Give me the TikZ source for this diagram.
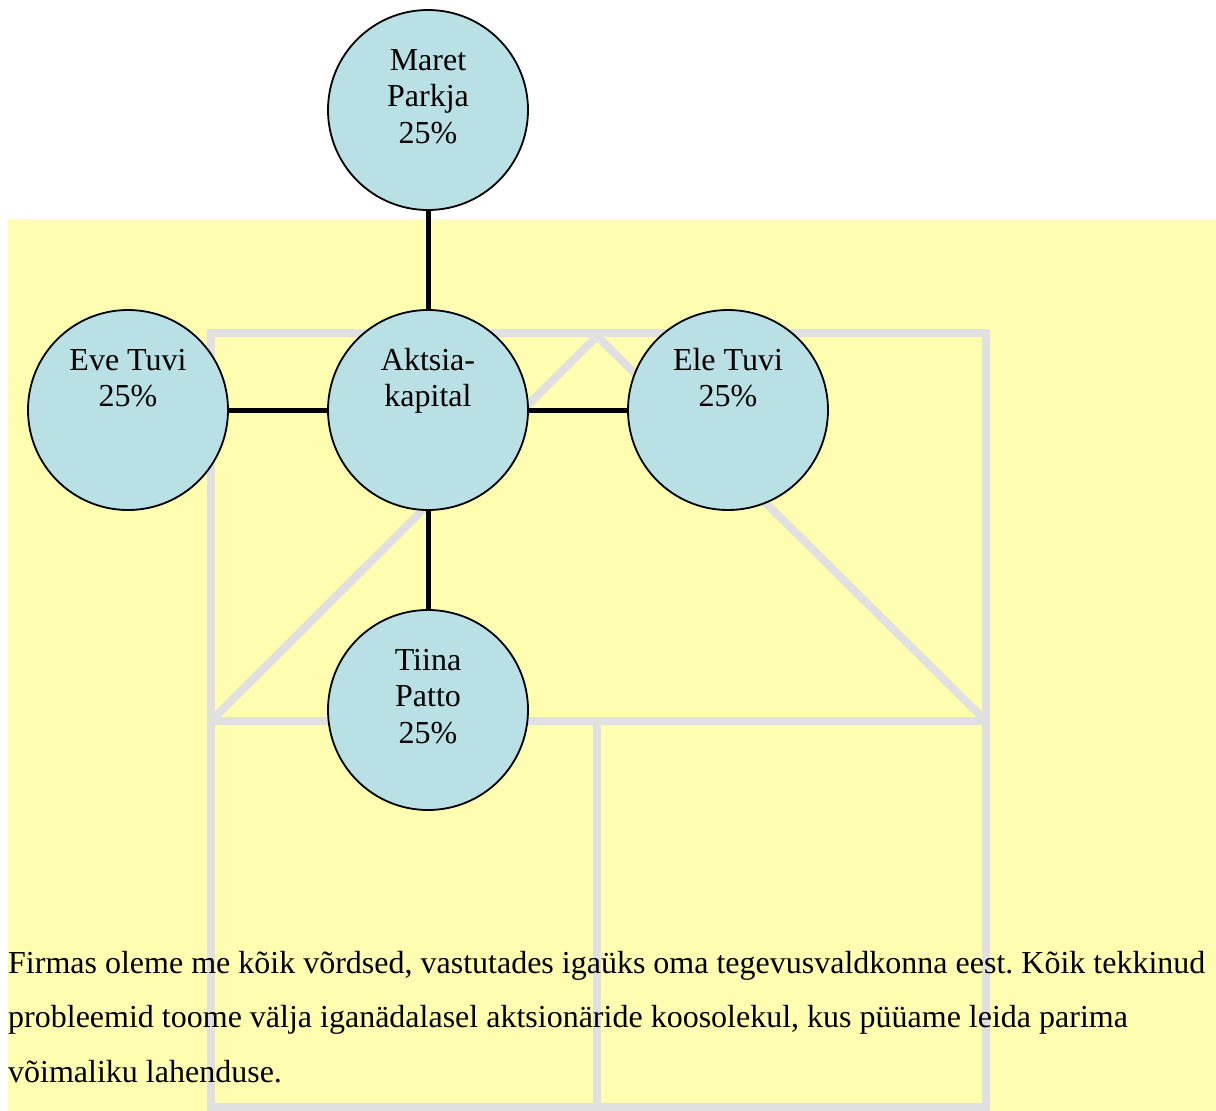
\documentclass[tikz,border=0pt]{standalone}
\usepackage{fontspec}
\setmainfont{Liberation Serif}
\definecolor{bgyellow}{RGB}{255,253,175}
\definecolor{housegrey}{RGB}{224,224,224}
\definecolor{circfill}{RGB}{185,224,228}
\newcommand\ctext[1]{\vtop{\halign{\hfil##\hfil\cr#1\crcr}}}
\begin{document}
\frenchspacing
\begin{tikzpicture}[x=1pt,y=-1pt,
  person/.style={circle, draw=black, line width=1.8pt, fill=circfill, minimum size=200pt, inner sep=0pt},
  link/.style={line width=5pt},
  house/.style={draw=housegrey, line width=8pt},
  lbl/.style={anchor=base, inner sep=0pt, font=\fontsize{32}{36.5}\selectfont},
  body/.style={anchor=base west, inner sep=0pt, font=\fontsize{32}{54.5}\selectfont},
]
\useasboundingbox (0,0) rectangle (1216,1111);
\fill[bgyellow] (8,219) rectangle (1216,1111);
% house outline
\draw[house] (211,1107) -- (211,333) -- (986,333) -- (986,1107) -- cycle;
\draw[house] (211,721) -- (597,336) -- (986,721);
\draw[house] (211,721) -- (986,721);
\draw[house] (597,721) -- (597,1107);
% circles
\node[person] (maret) at (428,110) {};
\node[person] (aktsia) at (428,410) {};
\node[person] (eve) at (128,410) {};
\node[person] (ele) at (728,410) {};
\node[person] (tiina) at (428,710) {};
% connectors
\draw[link] (maret) -- (aktsia);
\draw[link] (eve) -- (aktsia);
\draw[link] (aktsia) -- (ele);
\draw[link] (aktsia) -- (tiina);
% labels
\node[lbl] (tmaret) at (428,70) {\ctext{Maret\cr Parkja\cr 25\%}};
\node[lbl] (taktsia) at (428,370) {\ctext{Aktsia-\cr kapital}};
\node[lbl] (teve) at (128,370) {\ctext{Eve Tuvi\cr 25\%}};
\node[lbl] (tele) at (728,370) {\ctext{Ele Tuvi\cr 25\%}};
\node[lbl] (ttiina) at (428,670) {\ctext{Tiina\cr Patto\cr 25\%}};
% body text
\node[body] (txt) at (8,973) {\vtop{\hbox{Firmas oleme me kõik võrdsed, vastutades igaüks oma tegevusvaldkonna eest. Kõik tekkinud}\hbox{probleemid toome välja iganädalasel aktsionäride koosolekul, kus püüame leida parima}\hbox{võimaliku lahenduse.}}};
\end{tikzpicture}
\end{document}
